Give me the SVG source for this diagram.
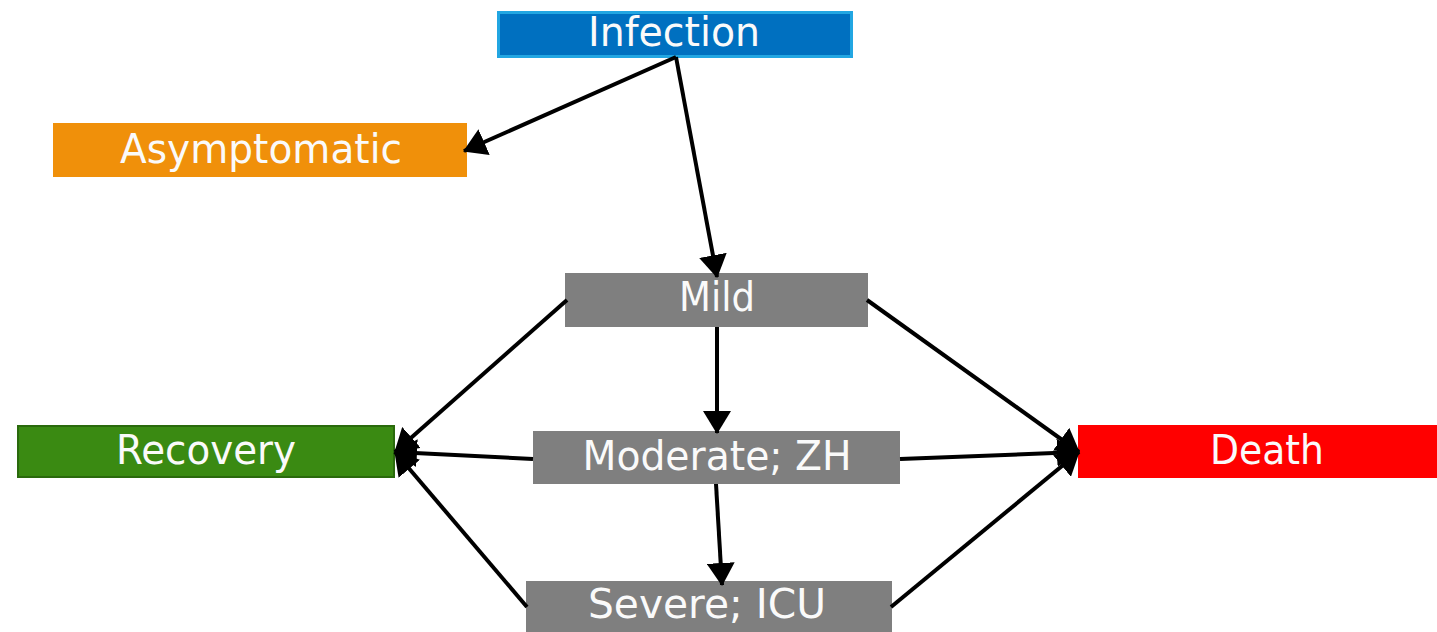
<svg xmlns="http://www.w3.org/2000/svg" width="1437" height="632" viewBox="0 0 1437 632">
<defs>
<style>
.lbl{font-family:"DejaVu Sans","Verdana","Liberation Sans",sans-serif;font-size:40px;fill:#fafafa;text-anchor:middle}
.edge{stroke:#000;stroke-width:4;fill:none}
.grey{fill:#7f7f7f}
</style>
<marker id="ah" viewBox="0 0 23 28" refX="22" refY="14" markerWidth="23" markerHeight="28" markerUnits="userSpaceOnUse" orient="auto">
<path d="M0,0 L23,14 L0,28 z" fill="#000"/>
</marker>
</defs>
<rect width="1437" height="632" fill="#fff"/>

<g id="infection">
<rect x="498.5" y="12.5" width="353" height="44" fill="#0070c0" stroke="#22a6e2" stroke-width="3"/>
<text class="lbl" x="674" y="46" textLength="172" lengthAdjust="spacingAndGlyphs">Infection</text>
</g>
<g id="asymptomatic">
<rect x="53" y="123" width="414" height="54" fill="#f0900a"/>
<text class="lbl" x="261" y="163" textLength="282" lengthAdjust="spacingAndGlyphs">Asymptomatic</text>
</g>
<g id="mild">
<rect class="grey" x="565" y="273" width="303" height="54"/>
<text class="lbl" x="717" y="311" textLength="76" lengthAdjust="spacingAndGlyphs">Mild</text>
</g>
<g id="moderate">
<rect class="grey" x="533" y="431" width="367" height="53"/>
<text class="lbl" x="717" y="470" textLength="269" lengthAdjust="spacingAndGlyphs">Moderate; ZH</text>
</g>
<g id="severe">
<rect class="grey" x="526" y="581" width="366" height="54"/>
<text class="lbl" x="707" y="618" textLength="238" lengthAdjust="spacingAndGlyphs">Severe; ICU</text>
</g>
<g id="recovery">
<rect x="18" y="426" width="376" height="51" fill="#3a8a12" stroke="#2a6a0c" stroke-width="2"/>
<text class="lbl" x="206" y="464" textLength="180" lengthAdjust="spacingAndGlyphs">Recovery</text>
</g>
<g id="death">
<rect x="1078" y="425" width="362" height="53" fill="#ff0000"/>
<text class="lbl" x="1267" y="464" textLength="114" lengthAdjust="spacingAndGlyphs">Death</text>
</g>

<g id="connectors">
<path class="edge" d="M676,57 L464,151" marker-end="url(#ah)"/>
<path class="edge" d="M676,57 L717,277" marker-end="url(#ah)"/>
<path class="edge" d="M717,327 L717,433" marker-end="url(#ah)"/>
<path class="edge" d="M716,484 L722,585" marker-end="url(#ah)"/>
<path class="edge" d="M567,300 L395,452" marker-end="url(#ah)"/>
<path class="edge" d="M533,459 L395,452" marker-end="url(#ah)"/>
<path class="edge" d="M527,607 L395,452" marker-end="url(#ah)"/>
<path class="edge" d="M867,300 L1079,452" marker-end="url(#ah)"/>
<path class="edge" d="M900,459 L1079,452" marker-end="url(#ah)"/>
<path class="edge" d="M891,607 L1079,452" marker-end="url(#ah)"/>
</g>
</svg>
